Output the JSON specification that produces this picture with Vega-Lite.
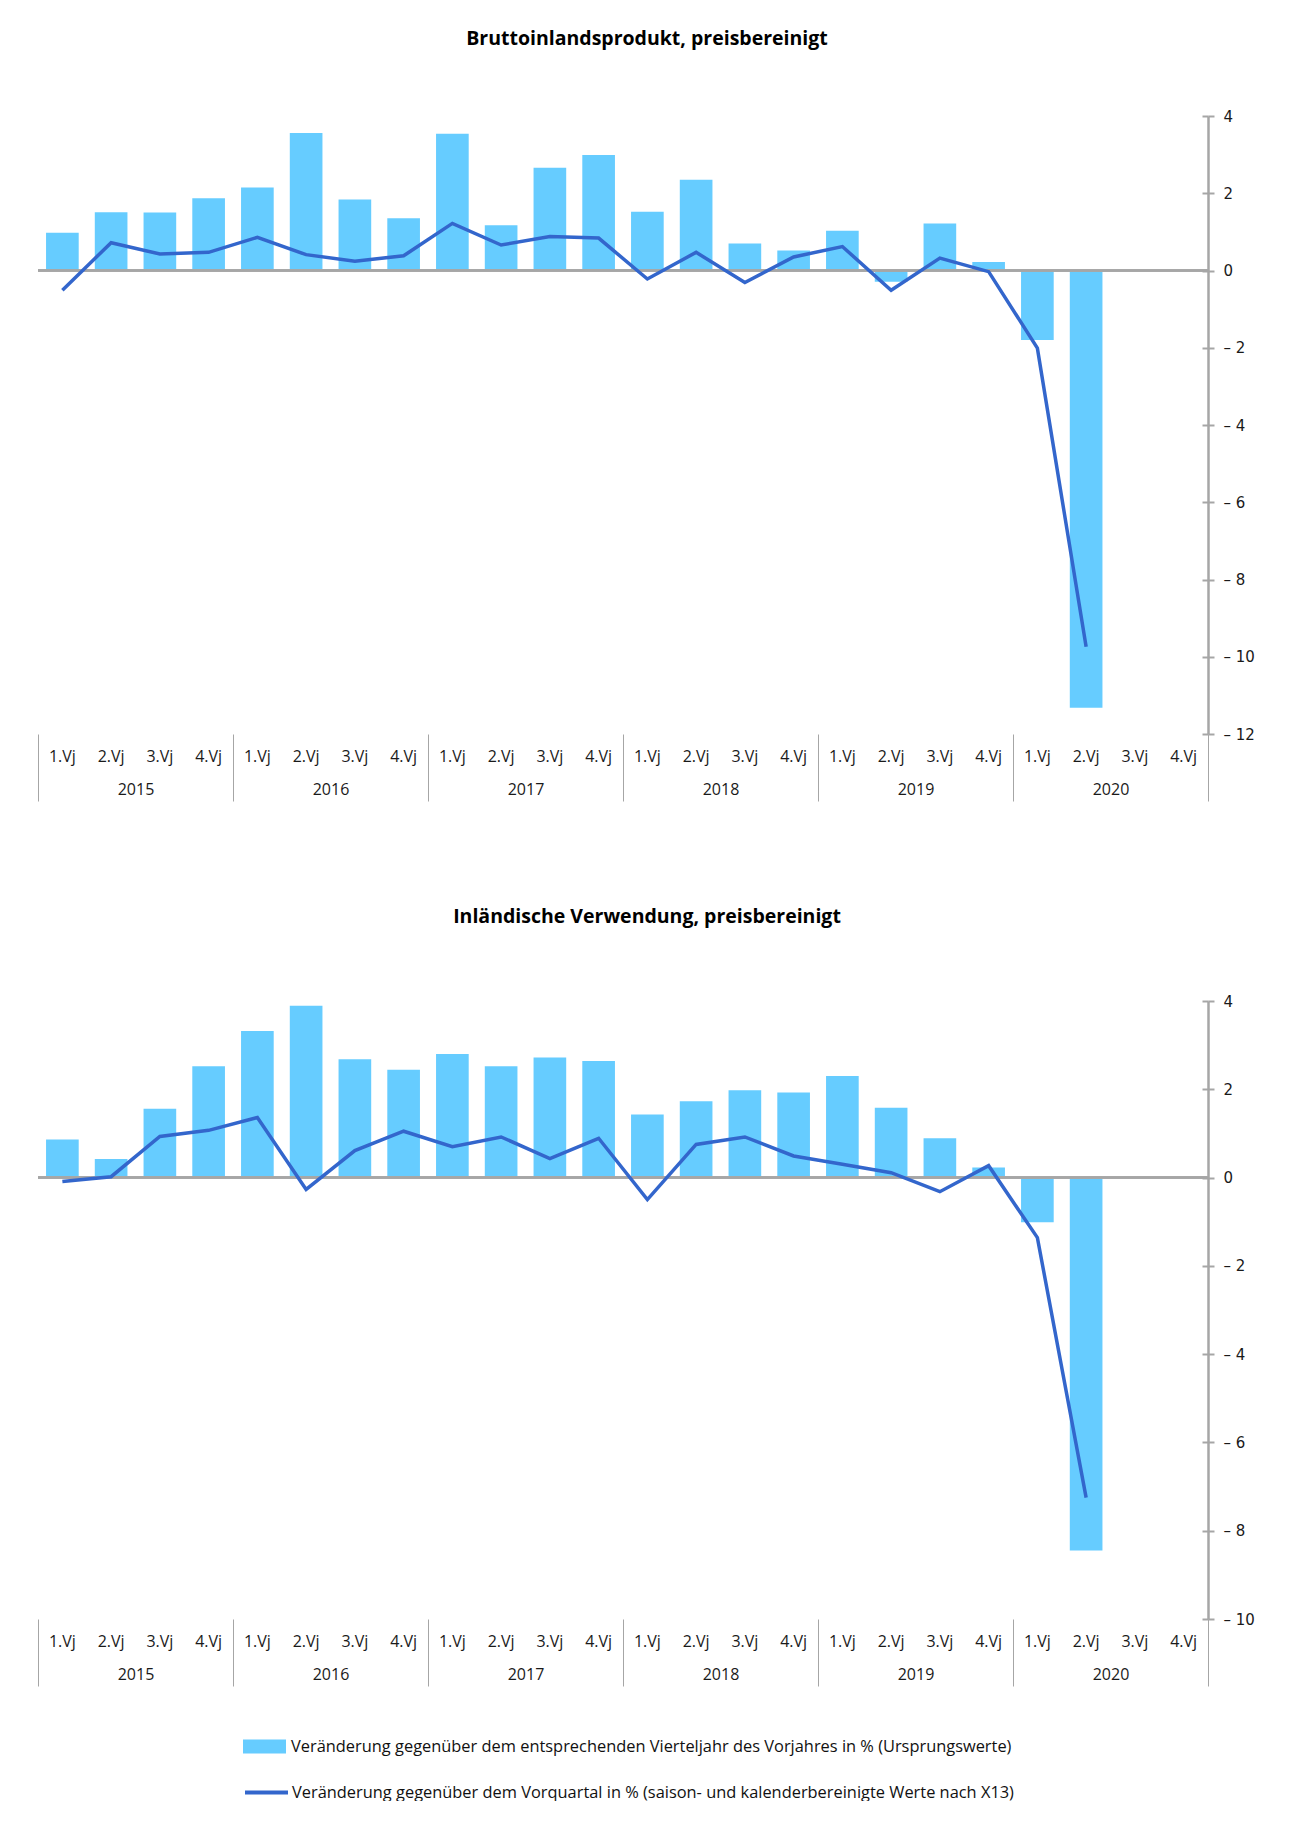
{
  "$schema": "https://vega.github.io/schema/vega-lite/v6.json",
  "background": "white",
  "padding": {"left": 37, "top": 28, "right": 0, "bottom": 0},
  "spacing": 104,
  "config": {"view": {"stroke": null}, "axis": {"grid": false}},
  "resolve": {"legend": {"color": "independent", "stroke": "independent"}, "scale": {"color": "independent", "stroke": "independent"}},
  "datasets": {
    "bip": [
      {"year": "2015", "key": "2015 1.Vj", "yoy": 0.98, "qoq": -0.51},
      {"year": "2015", "key": "2015 2.Vj", "yoy": 1.51, "qoq": 0.72},
      {"year": "2015", "key": "2015 3.Vj", "yoy": 1.50, "qoq": 0.43},
      {"year": "2015", "key": "2015 4.Vj", "yoy": 1.87, "qoq": 0.47},
      {"year": "2016", "key": "2016 1.Vj", "yoy": 2.15, "qoq": 0.86},
      {"year": "2016", "key": "2016 2.Vj", "yoy": 3.56, "qoq": 0.41},
      {"year": "2016", "key": "2016 3.Vj", "yoy": 1.84, "qoq": 0.24},
      {"year": "2016", "key": "2016 4.Vj", "yoy": 1.35, "qoq": 0.38},
      {"year": "2017", "key": "2017 1.Vj", "yoy": 3.54, "qoq": 1.22},
      {"year": "2017", "key": "2017 2.Vj", "yoy": 1.17, "qoq": 0.66},
      {"year": "2017", "key": "2017 3.Vj", "yoy": 2.66, "qoq": 0.88},
      {"year": "2017", "key": "2017 4.Vj", "yoy": 2.99, "qoq": 0.84},
      {"year": "2018", "key": "2018 1.Vj", "yoy": 1.52, "qoq": -0.22},
      {"year": "2018", "key": "2018 2.Vj", "yoy": 2.35, "qoq": 0.47},
      {"year": "2018", "key": "2018 3.Vj", "yoy": 0.70, "qoq": -0.31},
      {"year": "2018", "key": "2018 4.Vj", "yoy": 0.52, "qoq": 0.35},
      {"year": "2019", "key": "2019 1.Vj", "yoy": 1.03, "qoq": 0.62},
      {"year": "2019", "key": "2019 2.Vj", "yoy": -0.29, "qoq": -0.51},
      {"year": "2019", "key": "2019 3.Vj", "yoy": 1.22, "qoq": 0.32},
      {"year": "2019", "key": "2019 4.Vj", "yoy": 0.22, "qoq": -0.03},
      {"year": "2020", "key": "2020 1.Vj", "yoy": -1.80, "qoq": -2.01},
      {"year": "2020", "key": "2020 2.Vj", "yoy": -11.32, "qoq": -9.74}
    ],
    "inl": [
      {"year": "2015", "key": "2015 1.Vj", "yoy": 0.86, "qoq": -0.09},
      {"year": "2015", "key": "2015 2.Vj", "yoy": 0.42, "qoq": 0.02},
      {"year": "2015", "key": "2015 3.Vj", "yoy": 1.56, "qoq": 0.93},
      {"year": "2015", "key": "2015 4.Vj", "yoy": 2.52, "qoq": 1.07},
      {"year": "2016", "key": "2016 1.Vj", "yoy": 3.32, "qoq": 1.36},
      {"year": "2016", "key": "2016 2.Vj", "yoy": 3.89, "qoq": -0.27},
      {"year": "2016", "key": "2016 3.Vj", "yoy": 2.68, "qoq": 0.61},
      {"year": "2016", "key": "2016 4.Vj", "yoy": 2.44, "qoq": 1.05},
      {"year": "2017", "key": "2017 1.Vj", "yoy": 2.80, "qoq": 0.70},
      {"year": "2017", "key": "2017 2.Vj", "yoy": 2.52, "qoq": 0.92},
      {"year": "2017", "key": "2017 3.Vj", "yoy": 2.72, "qoq": 0.43},
      {"year": "2017", "key": "2017 4.Vj", "yoy": 2.64, "qoq": 0.89},
      {"year": "2018", "key": "2018 1.Vj", "yoy": 1.43, "qoq": -0.50},
      {"year": "2018", "key": "2018 2.Vj", "yoy": 1.73, "qoq": 0.75},
      {"year": "2018", "key": "2018 3.Vj", "yoy": 1.98, "qoq": 0.92},
      {"year": "2018", "key": "2018 4.Vj", "yoy": 1.93, "qoq": 0.49},
      {"year": "2019", "key": "2019 1.Vj", "yoy": 2.30, "qoq": 0.30},
      {"year": "2019", "key": "2019 2.Vj", "yoy": 1.58, "qoq": 0.11},
      {"year": "2019", "key": "2019 3.Vj", "yoy": 0.89, "qoq": -0.32},
      {"year": "2019", "key": "2019 4.Vj", "yoy": 0.23, "qoq": 0.27},
      {"year": "2020", "key": "2020 1.Vj", "yoy": -1.01, "qoq": -1.36},
      {"year": "2020", "key": "2020 2.Vj", "yoy": -8.45, "qoq": -7.25}
    ]
  },
  "vconcat": [
    {
      "title": {"text": "Bruttoinlandsprodukt, preisbereinigt", "font": "Open Sans", "fontSize": 19.5, "fontWeight": "bold", "color": "#000000", "anchor": "middle", "dx": 24, "offset": 60},
      "width": 1170,
      "height": 618,
      "data": {"name": "bip"},
      "layer": [
        {
          "layer": [
            {
              "mark": {"type": "bar", "color": "#66CCFF"},
              "encoding": {
                "x": {"field": "key", "type": "nominal", "sort": null,
                  "scale": {"domain": ["2015 1.Vj","2015 2.Vj","2015 3.Vj","2015 4.Vj","2016 1.Vj","2016 2.Vj","2016 3.Vj","2016 4.Vj","2017 1.Vj","2017 2.Vj","2017 3.Vj","2017 4.Vj","2018 1.Vj","2018 2.Vj","2018 3.Vj","2018 4.Vj","2019 1.Vj","2019 2.Vj","2019 3.Vj","2019 4.Vj","2020 1.Vj","2020 2.Vj","2020 3.Vj","2020 4.Vj"], "paddingInner": 0.33, "paddingOuter": 0.165},
                  "axis": {"orient": "bottom", "title": null, "domain": false, "ticks": false, "labelAngle": 0, "labelPadding": 14, "labelFont": "Open Sans", "labelFontSize": 16, "labelColor": "#1a1a1a", "labelExpr": "split(datum.label, ' ')[1]"}},
                "y": {"field": "yoy", "type": "quantitative", "stack": null, "scale": {"domain": [-12, 4], "nice": false},
                  "axis": {"orient": "right", "values": [-12,-10,-8,-6,-4,-2,0,2,4], "title": null, "domain": true, "domainColor": "#A6A6A6", "domainWidth": 2.5, "ticks": true, "tickColor": "#A6A6A6", "tickWidth": 2, "tickSize": 6, "labelFont": "DejaVu Sans", "labelFontSize": 15, "labelColor": "#1a1a1a", "labelPadding": 9, "labelExpr": "datum.value < 0 ? '– ' + abs(datum.value) : datum.label"}}
              }
            },
            {
              "mark": {"type": "rule", "color": "#A6A6A6", "strokeWidth": 1.5},
              "encoding": {"y": {"datum": 0, "type": "quantitative",
                  "axis": {"orient": "right", "values": [-12,-10,-8,-6,-4,-2,0,2,4], "title": null, "domain": true, "domainColor": "#A6A6A6", "domainWidth": 2.5, "ticks": true, "tickColor": "#A6A6A6", "tickWidth": 2, "tickSize": 6, "labelFont": "DejaVu Sans", "labelFontSize": 15, "labelColor": "#1a1a1a", "labelPadding": 9, "labelExpr": "datum.value < 0 ? '– ' + abs(datum.value) : datum.label"}}}
            },
            {
              "mark": {"type": "line", "color": "#3366CC", "strokeWidth": 3.5},
              "encoding": {
                "x": {"field": "key", "type": "nominal", "sort": null,
                  "axis": {"orient": "bottom", "title": null, "domain": false, "ticks": false, "labelAngle": 0, "labelPadding": 14, "labelFont": "Open Sans", "labelFontSize": 16, "labelColor": "#1a1a1a", "labelExpr": "split(datum.label, ' ')[1]"}},
                "y": {"field": "qoq", "type": "quantitative",
                  "axis": {"orient": "right", "values": [-12,-10,-8,-6,-4,-2,0,2,4], "title": null, "domain": true, "domainColor": "#A6A6A6", "domainWidth": 2.5, "ticks": true, "tickColor": "#A6A6A6", "tickWidth": 2, "tickSize": 6, "labelFont": "DejaVu Sans", "labelFontSize": 15, "labelColor": "#1a1a1a", "labelPadding": 9, "labelExpr": "datum.value < 0 ? '– ' + abs(datum.value) : datum.label"}}
              }
            }
          ]
        },
        {
          "mark": {"type": "bar", "opacity": 0},
          "encoding": {
            "x": {"field": "year", "type": "nominal", "sort": null,
              "scale": {"domain": ["2015","2016","2017","2018","2019","2020"], "paddingInner": 0, "paddingOuter": 0},
              "axis": {"orient": "bottom", "title": null, "domain": false, "ticks": true, "tickBand": "extent", "tickSize": 67, "tickColor": "#A6A6A6", "tickWidth": 1, "labelAngle": 0, "labelPadding": -20, "labelFont": "Open Sans", "labelFontSize": 16, "labelColor": "#1a1a1a"}},
            "y": {"field": "yoy", "type": "quantitative", "stack": null,
              "axis": {"orient": "right", "offset": -6, "values": [-12,-10,-8,-6,-4,-2,0,2,4], "title": null, "domain": false, "labels": false, "ticks": true, "tickColor": "#A6A6A6", "tickWidth": 2, "tickSize": 6}}
          }
        }
      ],
      "resolve": {"scale": {"x": "independent"}, "axis": {"x": "independent", "y": "independent"}}
    },
    {
      "title": {"text": "Inländische Verwendung, preisbereinigt", "font": "Open Sans", "fontSize": 19.5, "fontWeight": "bold", "color": "#000000", "anchor": "middle", "dx": 24, "offset": 67},
      "width": 1170,
      "height": 618,
      "data": {"name": "inl"},
      "layer": [
        {
          "layer": [
            {
              "mark": {"type": "bar"},
              "encoding": {
                "x": {"field": "key", "type": "nominal", "sort": null,
                  "scale": {"domain": ["2015 1.Vj","2015 2.Vj","2015 3.Vj","2015 4.Vj","2016 1.Vj","2016 2.Vj","2016 3.Vj","2016 4.Vj","2017 1.Vj","2017 2.Vj","2017 3.Vj","2017 4.Vj","2018 1.Vj","2018 2.Vj","2018 3.Vj","2018 4.Vj","2019 1.Vj","2019 2.Vj","2019 3.Vj","2019 4.Vj","2020 1.Vj","2020 2.Vj","2020 3.Vj","2020 4.Vj"], "paddingInner": 0.33, "paddingOuter": 0.165},
                  "axis": {"orient": "bottom", "title": null, "domain": false, "ticks": false, "labelAngle": 0, "labelPadding": 14, "labelFont": "Open Sans", "labelFontSize": 16, "labelColor": "#1a1a1a", "labelExpr": "split(datum.label, ' ')[1]"}},
                "y": {"field": "yoy", "type": "quantitative", "stack": null, "scale": {"domain": [-10, 4], "nice": false},
                  "axis": {"orient": "right", "values": [-10,-8,-6,-4,-2,0,2,4], "title": null, "domain": true, "domainColor": "#A6A6A6", "domainWidth": 2.5, "ticks": true, "tickColor": "#A6A6A6", "tickWidth": 2, "tickSize": 6, "labelFont": "DejaVu Sans", "labelFontSize": 15, "labelColor": "#1a1a1a", "labelPadding": 9, "labelExpr": "datum.value < 0 ? '– ' + abs(datum.value) : datum.label"}},
                "color": {"datum": "Veränderung gegenüber dem entsprechenden Vierteljahr des Vorjahres in % (Ursprungswerte)", "type": "nominal",
                  "scale": {"range": ["#66CCFF"]},
                  "legend": {"orient": "none", "legendX": 205, "legendY": 724, "title": null, "padding": 0, "symbolType": "M-1,-0.326H1V0.326H-1Z", "symbolSize": 1849, "symbolStrokeWidth": 0, "labelFont": "Open Sans", "labelFontSize": 16.4, "labelLimit": 1200, "labelOffset": 5, "labelColor": "#111111"}}
              }
            },
            {
              "mark": {"type": "rule", "color": "#A6A6A6", "strokeWidth": 1.5},
              "encoding": {"y": {"datum": 0, "type": "quantitative",
                  "axis": {"orient": "right", "values": [-10,-8,-6,-4,-2,0,2,4], "title": null, "domain": true, "domainColor": "#A6A6A6", "domainWidth": 2.5, "ticks": true, "tickColor": "#A6A6A6", "tickWidth": 2, "tickSize": 6, "labelFont": "DejaVu Sans", "labelFontSize": 15, "labelColor": "#1a1a1a", "labelPadding": 9, "labelExpr": "datum.value < 0 ? '– ' + abs(datum.value) : datum.label"}}}
            },
            {
              "mark": {"type": "line", "strokeWidth": 3.5},
              "encoding": {
                "x": {"field": "key", "type": "nominal", "sort": null,
                  "axis": {"orient": "bottom", "title": null, "domain": false, "ticks": false, "labelAngle": 0, "labelPadding": 14, "labelFont": "Open Sans", "labelFontSize": 16, "labelColor": "#1a1a1a", "labelExpr": "split(datum.label, ' ')[1]"}},
                "y": {"field": "qoq", "type": "quantitative",
                  "axis": {"orient": "right", "values": [-10,-8,-6,-4,-2,0,2,4], "title": null, "domain": true, "domainColor": "#A6A6A6", "domainWidth": 2.5, "ticks": true, "tickColor": "#A6A6A6", "tickWidth": 2, "tickSize": 6, "labelFont": "DejaVu Sans", "labelFontSize": 15, "labelColor": "#1a1a1a", "labelPadding": 9, "labelExpr": "datum.value < 0 ? '– ' + abs(datum.value) : datum.label"}},
                "stroke": {"datum": "Veränderung gegenüber dem Vorquartal in % (saison- und kalenderbereinigte Werte nach X13)", "type": "nominal",
                  "scale": {"range": ["#3366CC"]},
                  "legend": {"orient": "none", "legendX": 205, "legendY": 768, "title": null, "padding": 0, "symbolType": "stroke", "symbolSize": 1849, "symbolStrokeWidth": 4, "labelFont": "Open Sans", "labelFontSize": 16.4, "labelLimit": 1200, "labelOffset": 2, "labelColor": "#111111"}}
              }
            }
          ]
        },
        {
          "mark": {"type": "bar", "opacity": 0},
          "encoding": {
            "x": {"field": "year", "type": "nominal", "sort": null,
              "scale": {"domain": ["2015","2016","2017","2018","2019","2020"], "paddingInner": 0, "paddingOuter": 0},
              "axis": {"orient": "bottom", "title": null, "domain": false, "ticks": true, "tickBand": "extent", "tickSize": 67, "tickColor": "#A6A6A6", "tickWidth": 1, "labelAngle": 0, "labelPadding": -20, "labelFont": "Open Sans", "labelFontSize": 16, "labelColor": "#1a1a1a"}},
            "y": {"field": "yoy", "type": "quantitative", "stack": null,
              "axis": {"orient": "right", "offset": -6, "values": [-10,-8,-6,-4,-2,0,2,4], "title": null, "domain": false, "labels": false, "ticks": true, "tickColor": "#A6A6A6", "tickWidth": 2, "tickSize": 6}}
          }
        }
      ],
      "resolve": {"scale": {"x": "independent"}, "axis": {"x": "independent", "y": "independent"}}
    }
  ]
}
